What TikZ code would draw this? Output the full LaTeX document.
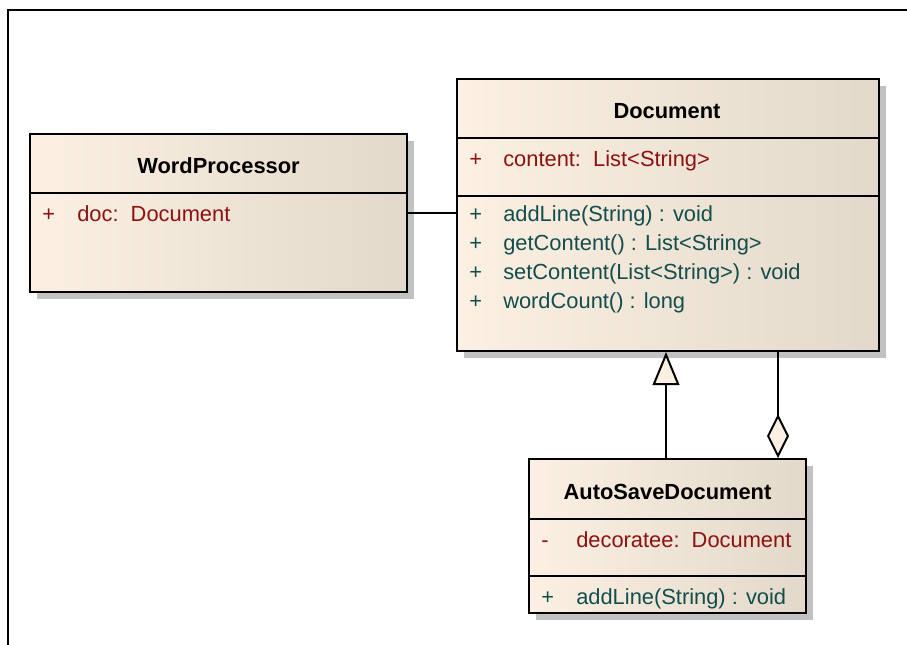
\documentclass[tikz,border=0pt]{standalone}
\usepackage{fontspec}
\setmainfont{Liberation Sans}
\usetikzlibrary{arrows.meta,shadows}
\definecolor{creamL}{HTML}{FBF0E2}
\definecolor{creamM}{HTML}{F7EDDF}
\definecolor{creamR}{HTML}{E3D9CA}
\definecolor{attrred}{HTML}{8E1111}
\definecolor{opteal}{HTML}{134D4D}
\definecolor{shadowgray}{HTML}{C2C2C2}
\tikzset{
  classbox/.style={draw=black, line width=1.5pt, inner sep=0pt, left color=creamL, middle color=creamM, right color=creamR,
    drop shadow={shadow xshift=5pt, shadow yshift=-5pt, fill=shadowgray, opacity=1}},
  sepline/.style={line width=1.5pt},
  conn/.style={line width=1.5pt},
  titletxt/.style={anchor=base, inner sep=0pt, font=\fontsize{16.4pt}{19pt}\selectfont\bfseries},
  attrtxt/.style={anchor=base west, inner sep=0pt, text=attrred, font=\fontsize{16.4pt}{19pt}\selectfont},
  optxt/.style={anchor=base west, inner sep=0pt, text=opteal, font=\fontsize{16.4pt}{19pt}\selectfont},
}
\begin{document}
\begin{tikzpicture}[x=0.75pt,y=-0.75pt]
\useasboundingbox (0,0) rectangle (907,645);
% frame
\draw[line width=0.9pt] (8,645) -- (8,10) -- (907,10);

% WordProcessor
\node[classbox, minimum width=282.75pt, minimum height=118.5pt] (wp) at (218.5,213) {};
\draw[sepline] (wp.west |- 0,193) -- (wp.east |- 0,193);
\node[titletxt] (wpT) at (218.5,174) {WordProcessor};
\node[attrtxt] (wpA1v) at (42,222) {+};
\node[attrtxt] (wpA1) at (77,222) {doc:\ \ Document};

% Document
\node[classbox, minimum width=316.5pt, minimum height=204pt] (doc) at (668,215) {};
\draw[sepline] (doc.west |- 0,138) -- (doc.east |- 0,138);
\draw[sepline] (doc.west |- 0,196) -- (doc.east |- 0,196);
\node[titletxt] (docT) at (667,119) {Document};
\node[attrtxt] (docA1v) at (469,167) {+};
\node[attrtxt] (docA1) at (503,167) {content:\ \ List<String>};
\node[optxt] (docO1v) at (469,222) {+};
\node[optxt] (docO1) at (503,222) {addLine(String) : void};
\node[optxt] (docO2v) at (469,251) {+};
\node[optxt] (docO2) at (503,251) {getContent() : List<String>};
\node[optxt] (docO3v) at (469,280) {+};
\node[optxt] (docO3) at (503,280) {setContent(List<String>) : void};
\node[optxt] (docO4v) at (469,309) {+};
\node[optxt] (docO4) at (503,309) {wordCount() : long};

% AutoSaveDocument
\node[classbox, minimum width=207.75pt, minimum height=115.5pt] (asd) at (667.5,536) {};
\draw[sepline] (asd.west |- 0,519) -- (asd.east |- 0,519);
\draw[sepline] (asd.west |- 0,576) -- (asd.east |- 0,576);
\node[titletxt] (asdT) at (667.5,499) {AutoSaveDocument};
\node[attrtxt] (asdA1v) at (541,547) {-};
\node[attrtxt] (asdA1) at (576,547) {decoratee:\ \ Document};
\node[optxt] (asdO1v) at (541,604) {+};
\node[optxt] (asdO1) at (576,604) {addLine(String) : void};

% connectors
\draw[conn] (wp.east) -- (wp.east -| doc.west);
\coordinate (genx) at (666,0);
\draw[conn, -{Triangle[width=20pt,length=24.75pt,fill=creamL]}] (asd.north -| genx) -- (doc.south -| genx);
\coordinate (aggx) at (778,0);
\draw[conn, -{Diamond[width=16.5pt,length=33pt,fill=creamL]}] (doc.south -| aggx) -- (asd.north -| aggx);
\end{tikzpicture}
\end{document}
